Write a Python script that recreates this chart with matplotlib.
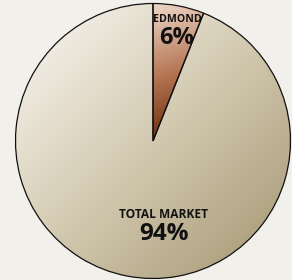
import numpy as np
import matplotlib.pyplot as plt
from matplotlib.colors import LinearSegmentedColormap

labels = ["EDMOND", "TOTAL MARKET"]
shares = [6, 94]
pct_text = ["6%", "94%"]

bg = "#f2f0eb"
fig = plt.figure(figsize=(2.92, 2.80), dpi=100, facecolor=bg)
ax = fig.add_axes([0, 0, 1, 1])
ax.set_facecolor(bg)

cx, cy, r = 153, 139, 137.5
wedges, _ = ax.pie(shares, startangle=90, counterclock=False,
                   center=(cx, cy), radius=r, frame=True,
                   wedgeprops=dict(edgecolor="#111111", linewidth=0.9, facecolor="none"))
ax.set_xlim(0, 292)
ax.set_ylim(0, 280)
ax.set_aspect("equal")
ax.axis("off")

# gradient fills, clipped to each wedge
grads = [
    LinearSegmentedColormap.from_list("ed", ["#eed8c8", "#b47452", "#5c2000"]),
    LinearSegmentedColormap.from_list("tm", ["#fbf9f5", "#d3c9b0", "#a29570"]),
]
mix = [(0.1, 0.9), (0.5, 0.5)]
for w, cm, (a, b) in zip(wedges, grads, mix):
    bb = w.get_path().transformed(w.get_patch_transform()).get_extents()
    xx, yy = np.meshgrid(np.linspace(0, 1, 200), np.linspace(0, 1, 200))
    g = a * xx + b * yy
    im = ax.imshow(g, cmap=cm, extent=(bb.x0, bb.x1, bb.y0, bb.y1), origin="upper",
                   aspect="auto", zorder=0.5, vmin=0, vmax=a + b)
    im.set_clip_path(w)
    w.set_zorder(2)

font = "Open Sans"
ax.text(177, 261, labels[0], ha="center", va="center", fontsize=7.6,
        fontweight="bold", family=font, color="#111111", zorder=3)
ax.text(176.5, 242, pct_text[0], ha="center", va="center", fontsize=17,
        fontweight="bold", family=font, color="#111111", zorder=3)
ax.text(163.5, 66, labels[1], ha="center", va="center", fontsize=8.6,
        fontweight="bold", family=font, color="#111111", zorder=3)
ax.text(163.5, 46, pct_text[1], ha="center", va="center", fontsize=17.5,
        fontweight="bold", family=font, color="#111111", zorder=3)

fig.savefig("out.png", dpi=100, facecolor=bg)
